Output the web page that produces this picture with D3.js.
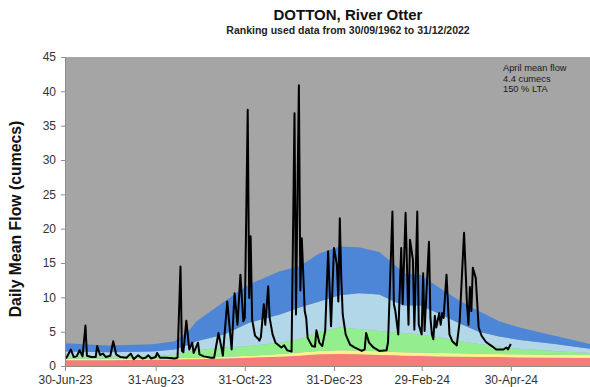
<!DOCTYPE html>
<html><head><meta charset="utf-8">
<script src="https://cdn.jsdelivr.net/npm/d3@7"></script>
<style>
html,body{margin:0;padding:0;background:#fff;}
svg{display:block;font-family:Arial,"Liberation Sans",sans-serif;}
</style></head>
<body>
<svg id="chart" width="590" height="387"></svg>
<script>
// ---- data ----
const startDate = "2023-06-30";
const endDate = "2024-06-30";
// flow series: day offset from startDate and daily mean flow (cumecs)
const flowDay = [0,1,4,6,8,10,12,14,15,18,21,22,24,26,28,31,33,35,38,42,45,47,50,53,55,57,59,62,63,65,70,75,77,79,80,81,83,85,87,88,91,92,95,100,102,105,107,108,111,114,116,118,120,122,123,125,126,127,128,130,132,133,134,136,137,139,140,142,144,148,150,152,155,157,158,160,161,162,164,165,166,169,171,172,174,176,178,180,182,184,186,187,188,189,190,192,195,198,203,205,206,208,211,215,220,221,224,225,226,228,230,231,233,235,236,238,239,241,242,244,245,246,249,250,251,252,253,254,256,257,258,259,261,263,265,268,270,273,275,276,277,278,279,281,283,285,288,292,295,300,302,303,305];
const flowValue = [1.3,1.2,2.4,1.3,1.4,2.3,1.4,5.9,1.5,1.3,1.3,2.9,1.6,1.8,1.3,1.5,3.6,1.7,1.3,1.2,1.8,1.0,1.55,1.1,1.2,1.55,1.1,1.3,1.9,1.2,1.2,1.1,1.2,14.5,2.2,2.0,6.6,2.4,3.4,1.9,3.4,1.7,1.4,1.2,1.2,4.8,2.7,1.5,9.4,2.4,10.6,6.0,13.3,6.5,7.0,37.3,9.9,18.9,6.8,4.4,4.0,3.7,4.2,9.0,6.0,11.6,7.0,4.6,3.4,2.7,3.0,2.3,2.1,36.8,7.5,40.9,11.0,18.6,8.0,7.0,4.1,2.9,2.8,5.2,3.4,2.9,5.1,16.7,5.8,17.2,14.8,9.4,21.5,12.8,7.5,4.6,3.1,2.7,2.2,2.4,4.8,3.4,2.7,2.2,2.3,3.5,22.5,9.0,8.0,4.6,17.2,9.0,22.3,6.0,18.4,15.5,5.3,22.5,6.0,4.6,13.5,5.1,18.1,7.0,4.6,3.9,7.3,5.6,7.7,6.0,7.7,7.0,13.3,4.6,3.6,3.0,6.5,19.4,9.0,6.0,11.5,8.0,14.3,12.8,5.6,4.4,3.5,2.9,2.4,2.4,2.7,2.4,3.2];

// long-term flow bands: day offset and upper boundary of each band (cumecs)
const bandDay       = [0,30,60,75,85,90,109,126,147,160,174,188,201,215,225,232,243,256,270,283,297,311,335,359,366];
const bandRedTop    = [0.85,0.85,0.9,0.95,1.0,1.0,1.1,1.2,1.35,1.5,1.7,1.75,1.7,1.6,1.55,1.5,1.45,1.4,1.35,1.3,1.3,1.25,1.2,1.15,1.1];
const bandYellowTop = [1.05,1.05,1.1,1.15,1.2,1.2,1.35,1.5,1.75,1.95,2.2,2.3,2.25,2.15,2.05,2.0,1.95,1.9,1.85,1.8,1.75,1.7,1.65,1.6,1.55];
const bandGreenTop  = [1.45,1.4,1.5,1.6,2.1,2.3,2.7,2.9,3.4,3.9,5.0,5.6,5.4,5.1,4.9,4.8,4.6,4.2,3.6,3.2,2.8,2.5,2.2,1.9,1.85];
const bandLightTop  = [2.1,2.0,2.1,2.4,3.1,3.6,4.6,6.3,7.5,8.5,9.4,10.3,10.6,10.4,9.4,8.8,8.8,7.6,6.2,5.0,4.3,3.8,3.2,2.5,2.4];
const bandBlueTop   = [3.3,3.0,3.15,3.6,5.2,6.5,9.4,11.9,13.8,14.5,16.4,17.4,17.3,16.6,14.8,13.5,13.3,11.4,9.5,8.0,6.5,5.6,4.4,3.2,3.1];

const yTicks = [0,5,10,15,20,25,30,35,40,45];
const xTickDates = ["2023-06-30","2023-08-31","2023-10-31","2023-12-31","2024-02-29","2024-04-30"];

const titleText = "DOTTON, River Otter";
const subtitleText = "Ranking used data from 30/09/1962 to 31/12/2022";
const yLabel = "Daily Mean Flow (cumecs)";
const noteLines = ["April mean flow","4.4 cumecs","150 % LTA"];

// ---- drawing ----
const svg = d3.select("#chart");
const parse = d3.timeParse("%Y-%m-%d");
const t0 = parse(startDate);
const dayToDate = d => d3.timeDay.offset(t0, d);

const mLeft = 65, mRight = 600, mTop = 57, mBottom = 366;
const x = d3.scaleTime().domain([t0, parse(endDate)]).range([mLeft, mRight]);
const y = d3.scaleLinear().domain([0, 45]).range([mBottom, mTop]);

svg.append("defs").append("clipPath").attr("id","clip")
  .append("rect").attr("x",mLeft).attr("y",mTop).attr("width",mRight-mLeft).attr("height",mBottom-mTop);

const g = svg.append("g").attr("clip-path","url(#clip)");
g.append("rect").attr("x",mLeft).attr("y",mTop).attr("width",mRight-mLeft).attr("height",mBottom-mTop).attr("fill","#a5a5a5");

const zero = bandDay.map(() => 0);
const bands = [
  {lo: zero, hi: bandRedTop, color: "#f77b7b"},
  {lo: bandRedTop, hi: bandYellowTop, color: "#f7f38a"},
  {lo: bandYellowTop, hi: bandGreenTop, color: "#93ef8e"},
  {lo: bandGreenTop, hi: bandLightTop, color: "#b2d7e8"},
  {lo: bandLightTop, hi: bandBlueTop, color: "#4d86d6"}
];
const area = d3.area().x(d => x(d.date)).y0(d => y(d.lo)).y1(d => y(d.hi));
bands.forEach(b => {
  const pts = bandDay.map((d,i) => ({date: dayToDate(d), lo: b.lo[i], hi: b.hi[i]}));
  g.append("path").datum(pts).attr("d", area).attr("fill", b.color);
});

const flowPts = flowDay.map((d,i) => ({date: dayToDate(d), v: flowValue[i]}));
g.append("path").datum(flowPts)
  .attr("d", d3.line().x(d => x(d.date)).y(d => y(d.v)))
  .attr("fill","none").attr("stroke","#000").attr("stroke-width",2).attr("stroke-linejoin","round");

// axes
const yAxis = svg.append("g").attr("transform",`translate(${mLeft},0)`)
  .call(d3.axisLeft(y).tickValues(yTicks).tickSize(4).tickSizeOuter(0).tickPadding(5));
const xAxis = svg.append("g").attr("transform",`translate(0,${mBottom})`)
  .call(d3.axisBottom(x).tickValues(xTickDates.map(parse)).tickFormat(d3.timeFormat("%d-%b-%y")).tickSize(5).tickSizeOuter(0).tickPadding(4));
[yAxis, xAxis].forEach(a => {
  a.select(".domain").attr("stroke","#8c8c8c");
  a.selectAll(".tick line").attr("stroke","#8c8c8c");
  a.selectAll(".tick text").attr("fill","#333").style("font-size","12px").style("font-family","Arial, 'Liberation Sans', sans-serif");
});

// titles
svg.append("text").attr("x",348).attr("y",20).attr("text-anchor","middle")
  .style("font-size","15px").style("font-weight","bold").attr("fill","#111").text(titleText);
svg.append("text").attr("x",348).attr("y",34).attr("text-anchor","middle")
  .style("font-size","10.5px").style("font-weight","bold").attr("fill","#222").text(subtitleText);

svg.append("text").attr("transform","translate(21,219) rotate(-90)").attr("text-anchor","middle")
  .style("font-size","15.8px").style("font-weight","bold").attr("fill","#111").text(yLabel);

noteLines.forEach((t,i) => {
  svg.append("text").attr("x",503).attr("y",71 + i*10.5)
    .style("font-size","9.3px").attr("fill","#1a1a1a").text(t);
});
</script>
</body></html>
